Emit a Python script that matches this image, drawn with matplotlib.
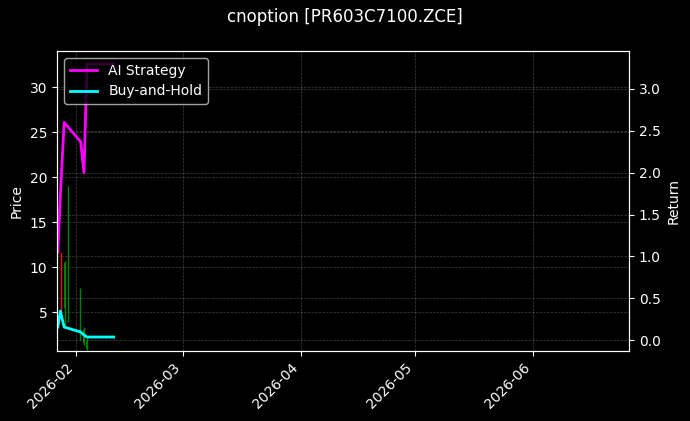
import datetime as dt
import matplotlib
matplotlib.use('Agg')
import matplotlib.pyplot as plt
import matplotlib.dates as mdates

plt.style.use('dark_background')

title = 'cnoption [PR603C7100.ZCE]'

# K线 (时间, 开, 高, 低, 收)
bar_time = [dt.datetime(2026, 1, 28, 4), dt.datetime(2026, 1, 29, 3),
            dt.datetime(2026, 1, 30, 0), dt.datetime(2026, 2, 2, 4),
            dt.datetime(2026, 2, 3, 0), dt.datetime(2026, 2, 3, 21)]
bar_open = [5.0, 10.4, 6.0, 6.2, 3.0, 1.8]
bar_high = [11.7, 10.7, 19.0, 7.7, 3.3, 2.1]
bar_low = [4.8, 3.2, 3.9, 1.9, 1.3, 0.7]
bar_close = [11.0, 5.5, 4.1, 2.5, 1.6, 0.9]

# 收益曲线
ret_time = [dt.datetime(2026, 1, 27, 5), dt.datetime(2026, 1, 27, 21),
            dt.datetime(2026, 1, 28, 21), dt.datetime(2026, 2, 2, 5),
            dt.datetime(2026, 2, 3, 2), dt.datetime(2026, 2, 3, 21),
            dt.datetime(2026, 2, 10, 21)]
ai_ret = [1.05, 1.72, 2.60, 2.37, 2.00, 3.30, 3.30]
bh_ret = [0.155, 0.347, 0.155, 0.096, 0.06, 0.036, 0.036]

fig = plt.figure(figsize=(6.9, 4.21), dpi=100)
ax1 = fig.add_subplot(1, 1, 1)
plt.subplots_adjust(left=57/690, right=629/690, top=1-51/421, bottom=1-351/421)

for i in range(len(bar_time)):
    c = 'red' if bar_close[i] >= bar_open[i] else 'green'
    ax1.vlines(bar_time[i], bar_low[i], bar_high[i], color=c, linewidth=1)
    lo = min(bar_open[i], bar_close[i])
    ax1.bar(bar_time[i], abs(bar_close[i]-bar_open[i]), bottom=lo, width=0.4, color=c)

ax1.set_ylabel('Price')
ax1.set_ylim(0.67, 34.0)
ax1.grid(True, linestyle='--', linewidth=0.5, color='grey', alpha=0.5)

ax2 = ax1.twinx()
ax2.plot(ret_time, ai_ret, color='magenta', linewidth=2, label='AI Strategy')
ax2.plot(ret_time, bh_ret, color='cyan', linewidth=2, label='Buy-and-Hold')
ax2.set_ylabel('Return')
ax2.set_ylim(-0.131, 3.454)
ax2.grid(True, linestyle='--', linewidth=0.5, color='grey', alpha=0.5)
ax2.legend(loc='upper left')

ax1.set_xlim(dt.datetime(2026, 1, 27), dt.datetime(2026, 6, 26, 4))
ax1.xaxis.set_major_locator(mdates.MonthLocator())
ax1.xaxis.set_major_formatter(mdates.DateFormatter('%Y-%m'))
plt.setp(ax1.get_xticklabels(), rotation=45, ha='right')

fig.suptitle(title)
plt.savefig('out.png')
